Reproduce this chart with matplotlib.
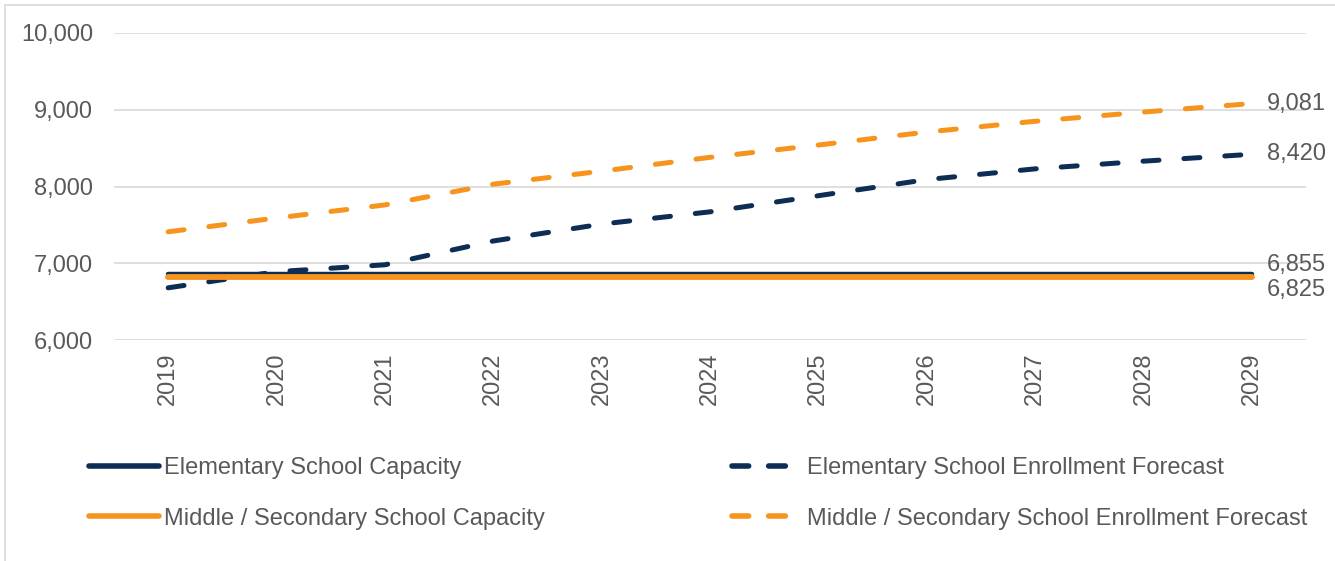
import numpy as np
import matplotlib.pyplot as plt
from matplotlib.lines import Line2D
from matplotlib.patches import Rectangle

years = [2019, 2020, 2021, 2022, 2023, 2024, 2025, 2026, 2027, 2028, 2029]
elem_capacity = [6855] * 11
mid_capacity = [6825] * 11
elem_forecast = [6680, 6890, 6980, 7290, 7510, 7670, 7880, 8090, 8230, 8330, 8420]
mid_forecast = [7410, 7590, 7760, 8030, 8200, 8380, 8540, 8710, 8850, 8970, 9081]
end_labels = ["9,081", "8,420", "6,855", "6,825"]
series_names = ["Elementary School Capacity", "Middle / Secondary School Capacity",
                "Elementary School Enrollment Forecast",
                "Middle / Secondary School Enrollment Forecast"]

NAVY = "#0E2D54"
ORANGE = "#F7941D"
TXT = "#595959"
GRID = "#D9D9D9"
FS = 17

plt.rcParams["font.family"] = ["Liberation Sans", "DejaVu Sans"]

fig = plt.figure(figsize=(13.35, 5.61), dpi=100)
ax = fig.add_axes([114 / 1335, 1 - 340 / 561, (1306 - 114) / 1335, (340 - 33) / 561])

x = np.arange(len(years))
ax.plot(x, elem_capacity, color=NAVY, lw=3.2, solid_capstyle="round", zorder=3)
ax.plot(x, mid_capacity, color=ORANGE, lw=4.2, solid_capstyle="round", zorder=4)
ax.plot(x, elem_forecast, color=NAVY, lw=3.6, dashes=(3.2, 5.0),
        dash_capstyle="round", zorder=3)
ax.plot(x, mid_forecast, color=ORANGE, lw=3.6, dashes=(3.2, 5.0),
        dash_capstyle="round", zorder=3)

ax.set_xlim(-0.5, len(years) - 0.5)
ax.set_ylim(6000, 10000)
ax.set_yticks([6000, 7000, 8000, 9000, 10000])
ax.set_yticklabels([f"{v:,}" for v in [6000, 7000, 8000, 9000, 10000]])
ax.set_xticks(x)
ax.set_xticklabels([str(y) for y in years], rotation=90)
ax.tick_params(length=0, labelsize=FS, colors=TXT)
ax.tick_params(axis="y", pad=15)
ax.tick_params(axis="x", pad=9)
ax.grid(axis="y", color=GRID, lw=1.2)
ax.set_axisbelow(True)
for s in ax.spines.values():
    s.set_visible(False)

# end-of-line value labels (positions nudged so the two capacity labels don't collide)
label_y = [9081, 8420, 6975, 6650]
for lab, yv in zip(end_labels, label_y):
    ax.annotate(lab, xy=(len(years) - 1, yv), xytext=(11, 0),
                textcoords="offset points", va="center", ha="left",
                fontsize=FS, color=TXT, annotation_clip=False)

handles = [
    Line2D([], [], color=NAVY, lw=4, solid_capstyle="round"),
    Line2D([], [], color=ORANGE, lw=4, solid_capstyle="round"),
    Line2D([], [], color=NAVY, lw=4, dashes=(3.0, 3.6), dash_capstyle="round"),
    Line2D([], [], color=ORANGE, lw=4, dashes=(3.0, 3.6), dash_capstyle="round"),
]
fig.legend(handles, series_names, ncol=2, loc="upper left",
           bbox_to_anchor=(68 / 1335, 1 - 436 / 561), frameon=False,
           fontsize=FS, labelcolor=TXT, handlelength=2.95, handletextpad=0.2,
           columnspacing=7.95, labelspacing=1.2)

fig.patches.append(Rectangle((5 / 1335, -0.1), 1.2, 1.1 - 5 / 561, transform=fig.transFigure,
                             fill=False, edgecolor=GRID, lw=1.2))

fig.savefig("out.png", dpi=100)
